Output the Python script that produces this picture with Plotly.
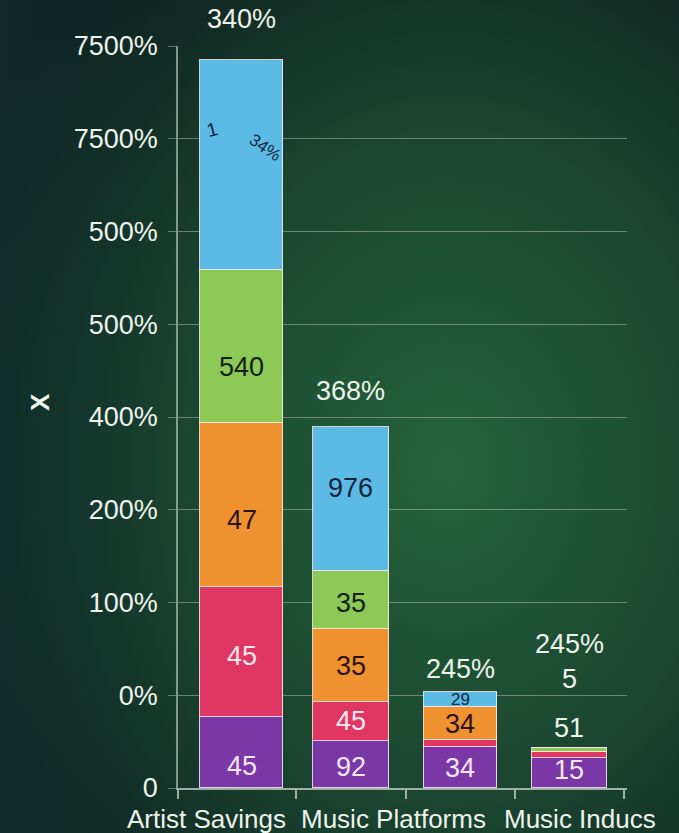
import base64
import plotly.graph_objects as go

# ---------------- data ----------------
bars_x = [0, 1, 2, 3]
bar_widths = [0.76, 0.70, 0.67, 0.69]

purple = [0.77, 0.51, 0.44, 0.32]
pink = [1.40, 0.42, 0.08, 0.065]
orange = [1.77, 0.78, 0.35, 0.0]
green = [1.64, 0.63, 0.0, 0.05]
blue = [2.27, 1.55, 0.17, 0.0]

purple_txt = ["45", "92", "34", "15"]
pink_txt = ["45", "45", "", ""]
orange_txt = ["47", "35", "34", ""]
green_txt = ["540", "35", "", ""]
blue_txt = ["", "976", "29", ""]

top_labels = ["340%", "368%", "245%", "245%"]

y_tickvals = [0, 1, 2, 3, 4, 5, 6, 7, 8]
y_ticktext = ["0", "0%", "100%", "200%", "400%", "500%", "500%", "7500%", "7500%"]

cat_labels = ["Artist Savings", "Music Platforms", "Music Inducs"]
cat_label_pos = [-0.32, 1.39, 3.10]
boundaries = [-0.585, 0.5, 1.5, 2.5, 3.5]

# ---------------- styling ----------------
FONT = "Liberation Sans"
W, H = 679, 833
ML, MR, MT, MB = 178, 52, 46, 45
PW, PH = W - ML - MR, H - MT - MB
TXT = "#eef3ec"

# per-segment label pixel nudges (purple, pink, orange, green, blue) x bars
nudges = [
    [-14, -3, 0, 3],
    [-4, 0, 0, 0],
    [-15, 0, 0, 0],
    [-20, -3, 0, 0],
    [0, 11, 0, 0],
]

svg = f'''<svg xmlns="http://www.w3.org/2000/svg" width="{W}" height="{H}" preserveAspectRatio="none">
<defs>
<radialGradient id="g" cx="0.66" cy="0.56" r="0.8" fx="0.66" fy="0.56">
<stop offset="0" stop-color="#25633a"/>
<stop offset="0.5" stop-color="#1a4530"/>
<stop offset="1" stop-color="#0c1b1c"/>
</radialGradient>
<linearGradient id="l" x1="0" y1="0" x2="1" y2="0">
<stop offset="0" stop-color="#123430" stop-opacity="0.55"/>
<stop offset="0.3" stop-color="#123430" stop-opacity="0"/>
</linearGradient>
</defs>
<rect width="100%" height="100%" fill="url(#g)"/>
<rect width="100%" height="100%" fill="url(#l)"/>
</svg>'''
bg_uri = "data:image/svg+xml;base64," + base64.b64encode(svg.encode()).decode()

fig = go.Figure()

series = [
    (purple, purple_txt, "#7a37a6", "#f3e6f5"),
    (pink, pink_txt, "#e03662", "#fde6ee"),
    (orange, orange_txt, "#f0922f", "#2a1414"),
    (green, green_txt, "#8cc957", "#14200f"),
    (blue, blue_txt, "#5cbbe5", "#13243c"),
]
ann = []
base = [0.0] * len(bars_x)
for si, (vals, txt, col, tcol) in enumerate(series):
    fig.add_trace(go.Bar(
        x=bars_x, y=vals, width=bar_widths,
        marker=dict(color=col, line=dict(color="rgba(255,235,240,0.85)", width=1)),
        showlegend=False, hoverinfo="skip",
    ))
    for i, t in enumerate(txt):
        if t:
            ann.append(dict(x=bars_x[i], y=base[i] + vals[i] / 2, xref="x", yref="y",
                            text=t, showarrow=False, yanchor="middle",
                            yshift=nudges[si][i],
                            font=dict(family=FONT, size=17 if t == "29" else 27, color=tcol)))
    base = [b + v for b, v in zip(base, vals)]

totals = base

shifts = [24, 19, 6, 87]
for i, lab in enumerate(top_labels):
    ann.append(dict(x=bars_x[i], y=totals[i], xref="x", yref="y", text=lab,
                    showarrow=False, yanchor="bottom", yshift=shifts[i],
                    font=dict(family=FONT, size=27, color=TXT)))
# extra labels above last bar
ann.append(dict(x=bars_x[3], y=totals[3], xref="x", yref="y", text="5", showarrow=False,
                yanchor="bottom", yshift=52, font=dict(family=FONT, size=27, color=TXT)))
ann.append(dict(x=bars_x[3], y=totals[3], xref="x", yref="y", text="51", showarrow=False,
                yanchor="bottom", yshift=3, font=dict(family=FONT, size=27, color=TXT)))
# scribbles in first blue segment
ann.append(dict(x=bars_x[0] - 0.27, y=totals[0], xref="x", yref="y", text="1", showarrow=False,
                yanchor="middle", yshift=-70, textangle=-15,
                font=dict(family=FONT, size=19, color="#13243c")))
ann.append(dict(x=bars_x[0] + 0.21, y=totals[0], xref="x", yref="y", text="34%", showarrow=False,
                yanchor="middle", yshift=-88, textangle=35,
                font=dict(family=FONT, size=17, color="#13243c")))
# category labels
for lab, pos in zip(cat_labels, cat_label_pos):
    ann.append(dict(x=pos, y=0, xref="x", yref="y", text=lab, showarrow=False,
                    yanchor="top", yshift=-14,
                    font=dict(family=FONT, size=26, color=TXT)))
# y axis title
ann.append(dict(x=-(ML - 40) / PW, y=(788 - 402) / 92.75, xref="paper", yref="y", text="<b>X</b>",
                showarrow=False, textangle=-90, xanchor="center", yanchor="middle",
                font=dict(family=FONT, size=26, color=TXT)))

fig.update_layout(
    width=W, height=H,
    margin=dict(l=ML, r=MR, t=MT, b=MB),
    paper_bgcolor="#0f2420", plot_bgcolor="rgba(0,0,0,0)",
    barmode="stack", bargap=0,
    annotations=ann,
    images=[dict(source=bg_uri, xref="paper", yref="paper",
                 x=-ML / PW, y=1 + MT / PH, sizex=W / PW, sizey=H / PH,
                 xanchor="left", yanchor="top", sizing="stretch", layer="below")],
    xaxis=dict(range=[-0.585, 3.53], showgrid=False, zeroline=False,
               showline=True, linecolor="rgba(205,215,205,0.75)", linewidth=1.5,
               tickvals=[], ticks="",
               minor=dict(tickvals=boundaries, ticks="outside", ticklen=9,
                          tickcolor="rgba(205,215,205,0.75)", tickwidth=1.5, showgrid=False)),
    yaxis=dict(range=[0, 8], tickvals=y_tickvals, ticktext=y_ticktext,
               showgrid=True, gridcolor="rgba(200,210,200,0.45)", gridwidth=1.2,
               zeroline=False, showline=True, linecolor="rgba(205,215,205,0.6)", linewidth=1.5,
               ticks="outside", ticklen=8, tickcolor="rgba(200,210,200,0.45)",
               ticklabelstandoff=5,
               tickfont=dict(family=FONT, size=27, color=TXT)),
)

fig.write_html("out.html", config={"displayModeBar": False},
               post_script="document.body.style.margin='0';")
